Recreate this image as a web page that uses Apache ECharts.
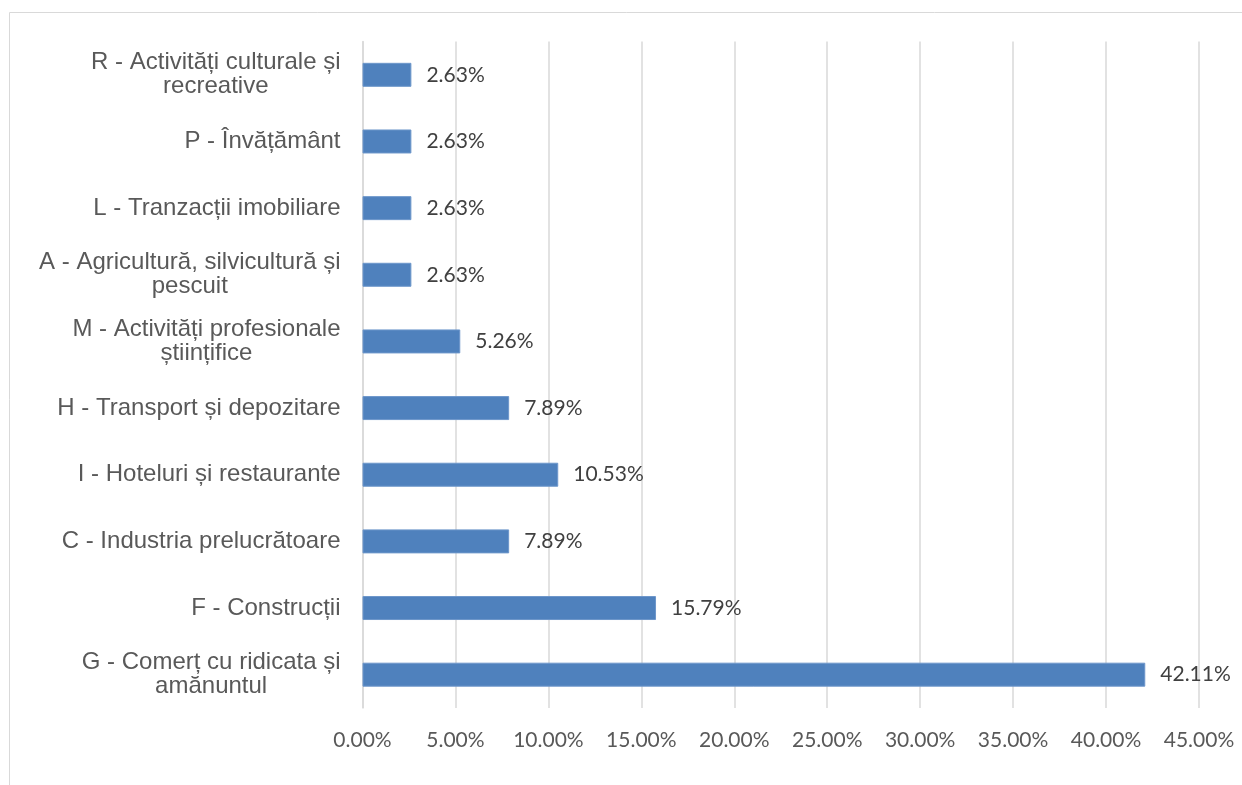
<!DOCTYPE html>
<html>
<head>
<meta charset="utf-8">
<script src="https://cdn.jsdelivr.net/npm/echarts@6/dist/echarts.min.js"></script>
<style>
html,body{margin:0;padding:0;background:#fff;}
#chart{width:1242px;height:785px;}
</style>
</head>
<body>
<div id="chart"></div>
<script>
// Categories listed top to bottom
const categories = [
  "R - Activități culturale și\nrecreative",
  "P - Învățământ",
  "L - Tranzacții imobiliare",
  "A - Agricultură, silvicultură și\npescuit",
  "M - Activități profesionale\nștiințifice",
  "H - Transport și depozitare",
  "I - Hoteluri și restaurante",
  "C - Industria prelucrătoare",
  "F - Construcții",
  "G - Comerț cu ridicata și\namănuntul"
];
const values = [2.63, 2.63, 2.63, 2.63, 5.26, 7.89, 10.53, 7.89, 15.79, 42.11];
const xTicks = { min: 0, max: 45, interval: 5 };

const chart = echarts.init(document.getElementById('chart'));
const catFont = { fontFamily: '"Liberation Sans", Arial, sans-serif', fontSize: 24, color: '#595959', lineHeight: 24 };
const numFont = 'Lato, "Open Sans", sans-serif';

chart.setOption({
  animation: false,
  graphic: [{
    type: 'rect',
    shape: { x: 9.5, y: 12.5, width: 1400, height: 900 },
    style: { fill: 'none', stroke: '#d9d9d9', lineWidth: 1 },
    silent: true
  }],
  grid: { left: 362.5, right: 43, top: 41.5, bottom: 77, containLabel: false },
  xAxis: {
    type: 'value',
    min: xTicks.min, max: xTicks.max, interval: xTicks.interval,
    axisLine: { show: false },
    axisTick: { show: false },
    splitLine: { show: true, lineStyle: { color: '#d9d9d9', width: 1.5 } },
    axisLabel: {
      formatter: v => v.toFixed(2) + '%',
      fontFamily: numFont, fontSize: 21, color: '#595959', margin: 22
    }
  },
  yAxis: {
    type: 'category',
    inverse: true,
    data: categories,
    axisLine: { show: true, lineStyle: { color: '#d9d9d9', width: 1.5 } },
    axisTick: { show: false },
    axisLabel: {
      margin: 22,
      align: 'right',
      formatter: v => v.split('\n').map(l => '{c|' + l + '}').join('\n'),
      rich: { c: Object.assign({ align: 'center' }, catFont) }
    }
  },
  series: [{
    type: 'bar',
    data: values,
    barWidth: 24,
    itemStyle: { color: '#4f81bd', borderColor: '#6e97cb', borderWidth: 1 },
    label: {
      show: true, position: 'right', distance: 15,
      formatter: p => p.value.toFixed(2) + '%',
      fontFamily: numFont, fontSize: 21, color: '#404040'
    }
  }]
});
</script>
</body>
</html>
